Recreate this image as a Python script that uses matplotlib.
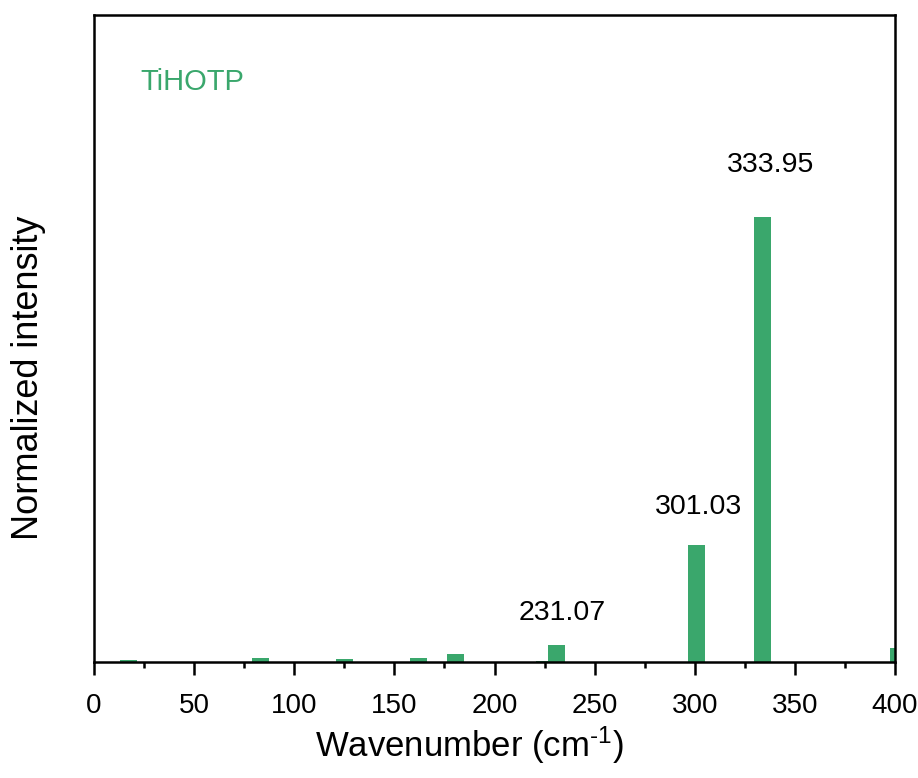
import matplotlib
matplotlib.use("Agg")
import matplotlib.pyplot as plt

plt.rcParams['font.family'] = ['Liberation Sans', 'DejaVu Sans']
plt.rcParams['mathtext.fontset'] = 'custom'
plt.rcParams['mathtext.rm'] = 'Liberation Sans'
plt.rcParams['mathtext.it'] = 'Liberation Sans:italic'

wavenumbers = [17.2, 83.1, 125.1, 162.0, 180.3, 225.0, 231.07, 301.03, 333.95, 402.0]
intensities = [0.0045, 0.009, 0.0067, 0.0097, 0.017, 0.003, 0.038, 0.263, 1.0, 0.031]
peak_labels = ["231.07", "301.03", "333.95"]
label_x = [233.8, 301.8, 338.0]
label_y = [0.110, 0.348, 1.116]
bar_color = "#3aa76c"

fig = plt.figure(figsize=(9.18, 7.78), dpi=100)
ax = fig.add_axes([94/918, 1-662/778, (895-94)/918, (662-15)/778])

ax.bar(wavenumbers, intensities, width=8.5, color=bar_color, zorder=2)
ax.set_xlim(0, 400)
ax.set_ylim(0, 1.454)
ax.set_yticks([])
ax.set_xticks(range(0, 401, 50))
ax.set_xticks(range(25, 400, 50), minor=True)
ax.tick_params(axis='x', which='major', direction='out', length=9, width=1.8, labelsize=20, pad=13)
ax.tick_params(axis='x', which='minor', direction='out', length=4.5, width=1.8)
for s in ax.spines.values():
    s.set_linewidth(1.8)

for lab, x, y in zip(peak_labels, label_x, label_y):
    ax.text(x, y, lab, ha='center', va='center', fontsize=20.5)

ax.text(0.058, 0.896, "TiHOTP", transform=ax.transAxes, color=bar_color, fontsize=21,
        ha='left', va='center')
ax.set_xlabel("Wavenumber (cm$^{\\text{-1}}$)", fontsize=25, labelpad=4)
ax.xaxis.label.set_x(0.468)
ax.set_ylabel("Normalized intensity", fontsize=26)
ax.yaxis.set_label_coords(-0.0605, 0.439)

fig.savefig("out.png", dpi=100)
